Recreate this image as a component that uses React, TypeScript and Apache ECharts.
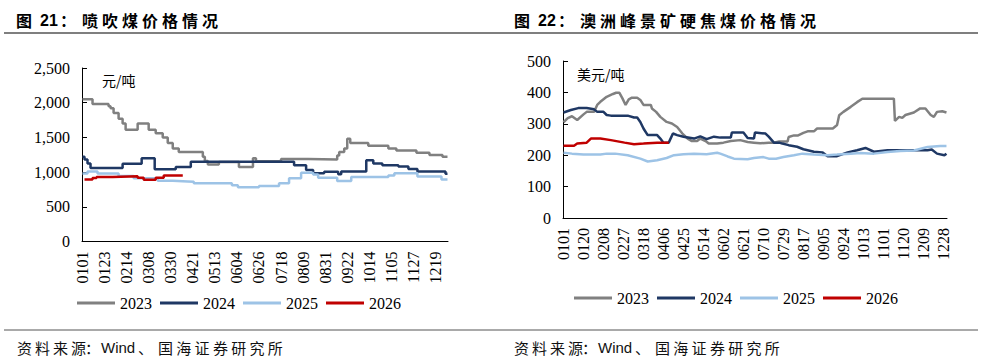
import React, { useEffect, useRef } from 'react';
import * as echarts from 'echarts';

// ---------- data ----------
const SERIES_NAMES = ['2023', '2024', '2025', '2026'];
const COLORS = ['#808080', '#1f3864', '#9dc3e6', '#c00000'];

// Left chart: 喷吹煤价格 (元/吨). Points are [dayIndex, value]; value holds until next point.
const pci2023: [number, number][] = [
  [0, 2050], [10, 1980], [26, 1950], [28, 1920], [31, 1850], [36, 1770], [40, 1700], [43, 1610],
  [55, 1700], [66, 1610], [73, 1560], [80, 1500], [85, 1420], [90, 1340], [96, 1290], [120, 1220],
  [122, 1160], [125, 1110], [136, 1145], [156, 1075], [170, 1200], [173, 1155], [198, 1190],
  [225, 1180], [254, 1240], [256, 1290], [261, 1340], [264, 1480], [267, 1420], [285, 1380],
  [305, 1340], [313, 1310], [333, 1280], [346, 1245], [359, 1220], [364, 1220],
];
const pci2024: [number, number][] = [
  [0, 1220], [2, 1180], [5, 1125], [8, 1060], [40, 1120], [59, 1200], [72, 1040], [93, 1075],
  [108, 1150], [211, 1100], [223, 1030], [230, 985], [241, 1005], [255, 970], [258, 1010],
  [283, 1170], [290, 1125], [299, 1100], [315, 1080], [325, 1045], [334, 1010], [362, 975], [364, 975],
];
const pci2025: [number, number][] = [
  [0, 980], [5, 1010], [15, 980], [36, 945], [51, 910], [75, 875], [90, 865], [105, 860], [111, 840],
  [149, 810], [155, 780], [176, 800], [196, 840], [206, 910], [218, 990], [230, 965], [235, 920],
  [254, 870], [268, 930], [305, 950], [311, 985], [334, 935], [358, 895], [364, 895],
];
const pci2026: [number, number][] = [
  [2, 895], [10, 915], [14, 930], [30, 940], [55, 920], [61, 890], [73, 920], [81, 950], [100, 950],
];

// Right chart: 澳洲峰景矿硬焦煤价格 (美元/吨). Points are [dayIndex, value].
const hcc2023: [number, number][] = [
  [0, 305], [4, 318], [8, 324], [13, 312], [19, 330], [22, 338], [29, 338], [32, 360], [35, 370],
  [41, 386], [47, 395], [50, 399], [53, 399], [56, 381], [59, 360], [62, 378], [65, 383], [70, 383],
  [73, 376], [76, 360], [83, 360], [84, 349], [88, 338], [92, 322], [98, 306], [103, 301], [108, 290],
  [113, 269], [118, 253], [122, 245], [127, 245], [130, 253], [135, 245], [138, 237], [146, 237],
  [152, 240], [159, 245], [168, 248], [175, 242], [181, 240], [187, 238], [195, 240], [200, 240],
  [205, 244], [213, 244], [214, 258], [219, 263], [223, 263], [228, 271], [232, 276], [238, 276],
  [241, 285], [256, 285], [260, 296], [262, 327], [266, 338], [273, 354], [279, 369], [284, 380],
  [314, 380], [315, 309], [319, 322], [322, 319], [325, 328], [333, 336], [339, 349], [344, 349],
  [349, 328], [352, 322], [355, 338], [360, 340], [364, 336],
];
const hcc2024: [number, number][] = [
  [0, 336], [7, 344], [14, 350], [22, 350], [29, 346], [32, 338], [38, 338], [41, 328], [45, 326],
  [61, 326], [67, 320], [70, 320], [73, 306], [76, 285], [80, 264], [89, 264], [92, 253], [95, 240],
  [100, 240], [104, 269], [108, 264], [114, 259], [124, 253], [130, 260], [136, 251], [143, 259],
  [149, 256], [159, 256], [160, 272], [171, 272], [175, 255], [181, 253], [182, 272], [192, 269],
  [195, 259], [200, 240], [205, 240], [208, 237], [214, 232], [222, 227], [228, 219], [238, 211],
  [246, 209], [251, 197], [260, 197], [270, 209], [279, 216], [287, 223], [295, 211], [308, 216],
  [336, 216], [346, 216], [350, 218], [355, 205], [362, 200], [364, 205],
];
const hcc2025: [number, number][] = [
  [0, 208], [8, 205], [19, 202], [35, 202], [41, 205], [49, 205], [61, 200], [73, 189], [80, 180],
  [89, 184], [98, 191], [105, 200], [114, 203], [124, 205], [136, 203], [146, 208], [149, 205],
  [156, 196], [162, 189], [175, 187], [181, 191], [190, 194], [195, 189], [202, 189], [209, 194],
  [219, 200], [227, 205], [238, 202], [251, 200], [260, 202], [273, 205], [282, 207], [295, 205],
  [308, 210], [320, 213], [333, 215], [346, 226], [358, 229], [364, 229],
];
const hcc2026: [number, number][] = [
  [0, 230], [10, 230], [13, 237], [22, 240], [26, 253], [35, 253], [45, 248], [58, 240], [67, 235],
  [76, 237], [89, 240], [100, 240],
];

const LEFT_DATA = [pci2023, pci2024, pci2025, pci2026];
const RIGHT_DATA = [hcc2023, hcc2024, hcc2025, hcc2026];

const MONTH_DAYS = [31, 28, 31, 30, 31, 30, 31, 31, 30, 31, 30, 31];
function buildDays(): string[] {
  const out: string[] = [];
  MONTH_DAYS.forEach((n, m) => {
    for (let d = 1; d <= n; d++) out.push(String(m + 1).padStart(2, '0') + String(d).padStart(2, '0'));
  });
  return out;
}
const DAYS = buildDays();

const LEFT_TITLE = { num: '21', text: '喷吹煤价格情况' };
const RIGHT_TITLE = { num: '22', text: '澳洲峰景矿硬焦煤价格情况' };
const LEFT_UNIT = '元/吨';
const RIGHT_UNIT = '美元/吨';

// ---------- helpers ----------
const SERIF = 'Liberation Serif';
const CJK = 'Noto Sans CJK SC';

function txt(t: string, x: number, y: number, font: string, fill = '#000') {
  return {
    type: 'text',
    x,
    y,
    silent: true,
    style: { text: t, font, fill, textAlign: 'left', textVerticalAlign: 'middle', align: 'left', verticalAlign: 'middle' },
  };
}

function titleRow(num: string, text: string, x0: number) {
  const els: any[] = [];
  const y = 20;
  els.push(txt('图', x0, y, `bold 16px ${CJK}`));
  els.push(txt(num, x0 + 24, y, 'bold 16px Liberation Sans'));
  els.push(txt('：', x0 + 44, y, `bold 16px ${CJK}`));
  Array.from(text).forEach((c, i) => els.push(txt(c, x0 + 66 + i * 20, y, `bold 16px ${CJK}`)));
  return els;
}

function sourceRow(x0: number) {
  const els: any[] = [];
  const y = 347;
  const f = `15px ${CJK}`;
  Array.from('资料来源').forEach((c, i) => els.push(txt(c, x0 + i * 18, y, f, '#111')));
  els.push(txt('：', x0 + 68, y, f, '#111'));
  els.push(txt('Wind', x0 + 84, y, '15px Liberation Sans', '#111'));
  els.push(txt('、', x0 + 121, y, f, '#111'));
  Array.from('国海证券研究所').forEach((c, i) => els.push(txt(c, x0 + 141 + i * 18.3, y, f, '#111')));
  return els;
}

function xAxisCfg(gridIndex: number, labelInterval: number, tickInterval: number) {
  return {
    type: 'category',
    gridIndex,
    data: DAYS,
    boundaryGap: true,
    axisLine: { lineStyle: { color: '#000', width: 1 } },
    axisTick: { inside: true, length: 5, interval: tickInterval, lineStyle: { color: '#000', width: 1 } },
    axisLabel: {
      interval: labelInterval,
      rotate: 90,
      margin: 10,
      fontFamily: SERIF,
      fontSize: 16,
      color: '#000',
    },
    splitLine: { show: false },
  };
}

function yAxisCfg(gridIndex: number, max: number, interval: number) {
  return {
    type: 'value',
    gridIndex,
    min: 0,
    max,
    interval,
    axisLine: { show: true, lineStyle: { color: '#000', width: 1 } },
    axisTick: { show: true, inside: true, length: 5, lineStyle: { color: '#000', width: 1 } },
    axisLabel: {
      margin: 12,
      fontFamily: SERIF,
      fontSize: 16,
      color: '#000',
      formatter: (v: number) => v.toLocaleString('en-US'),
    },
    splitLine: { show: false },
  };
}

function legendCfg(left: number, top: number) {
  return {
    left,
    top,
    padding: 0,
    data: SERIES_NAMES,
    icon: 'rect',
    itemWidth: 38,
    itemHeight: 3,
    itemGap: 8,
    selectedMode: false,
    textStyle: { fontFamily: SERIF, fontSize: 16, color: '#000' },
  };
}

export default function App() {
  const ref = useRef<HTMLDivElement>(null);
  useEffect(() => {
    if (!ref.current) return;
    const chart = echarts.init(ref.current, undefined, { renderer: 'svg' });
    const series: any[] = [];
    LEFT_DATA.forEach((d, i) =>
      series.push({
        name: SERIES_NAMES[i],
        type: 'line',
        xAxisIndex: 0,
        yAxisIndex: 0,
        data: d,
        step: 'end',
        showSymbol: false,
        symbol: 'none',
        color: COLORS[i],
        lineStyle: { color: COLORS[i], width: 2.5 },
      })
    );
    RIGHT_DATA.forEach((d, i) =>
      series.push({
        name: SERIES_NAMES[i],
        type: 'line',
        xAxisIndex: 1,
        yAxisIndex: 1,
        data: d,
        showSymbol: false,
        symbol: 'none',
        color: COLORS[i],
        lineStyle: { color: COLORS[i], width: 2.5 },
      })
    );
    chart.setOption({
      animation: false,
      backgroundColor: '#fff',
      grid: [
        { left: 82, top: 68, width: 366, height: 173.5 },
        { left: 563, top: 61, width: 384, height: 157 },
      ],
      xAxis: [xAxisCfg(0, 21, 19), xAxisCfg(1, 18, 19)],
      yAxis: [yAxisCfg(0, 2500, 500), yAxisCfg(1, 500, 100)],
      legend: [legendCfg(77, 295), legendCfg(574, 290)],
      series,
      graphic: [
        ...titleRow(LEFT_TITLE.num, LEFT_TITLE.text, 16),
        ...titleRow(RIGHT_TITLE.num, RIGHT_TITLE.text, 514),
        { type: 'line', silent: true, shape: { x1: 4, y1: 33, x2: 978, y2: 33 }, style: { stroke: '#7f7f7f', lineWidth: 2 } },
        txt(LEFT_UNIT, 102, 80, `14px ${CJK}`),
        txt(RIGHT_UNIT, 577, 74, `14px ${CJK}`),
        { type: 'line', silent: true, shape: { x1: 4, y1: 330, x2: 978, y2: 330 }, style: { stroke: '#555', lineWidth: 1 } },
        ...sourceRow(17),
        ...sourceRow(514),
      ],
    });
    return () => chart.dispose();
  }, []);
  return <div ref={ref} style={{ position: 'absolute', left: 0, top: 0, width: 982, height: 360 }} />;
}
